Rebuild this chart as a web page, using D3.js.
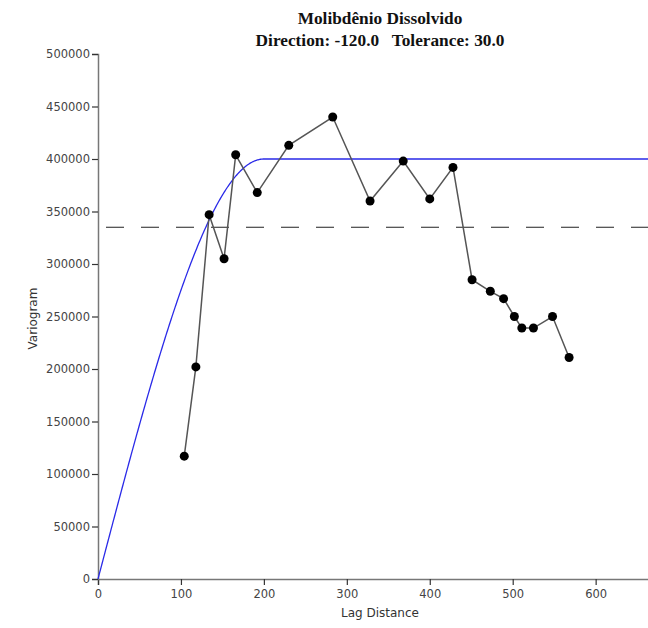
<!DOCTYPE html>
<html>
<head>
<meta charset="utf-8">
<script src="https://cdn.jsdelivr.net/npm/d3@7"></script>
<style>
  html, body { margin: 0; padding: 0; background: #fff; overflow: hidden; }
  svg { display: block; }
</style>
</head>
<body>
<svg id="chart" width="648" height="628"></svg>
<script>
// Experimental variogram: lag distance and semivariance
const lagDistance = [104, 118, 134, 152, 166, 192, 230, 283, 328, 368, 400, 428, 451, 473, 489, 502, 511, 525, 548, 568];
const semivariance = [117000, 202000, 347000, 305000, 404000, 368000, 413000, 440000, 360000, 398000, 362000, 392000, 285000, 274000, 267000, 250000, 239000, 239000, 250000, 211000];

// Fitted spherical model and sample variance
const modelNugget = 0;
const modelSill = 400000;
const modelRange = 200;
const sampleVariance = 335000;

const xTicks = [0, 100, 200, 300, 400, 500, 600];
const yTicks = [0, 50000, 100000, 150000, 200000, 250000, 300000, 350000, 400000, 450000, 500000];

const titleLines = ["Molibdênio Dissolvido", "Direction: -120.0   Tolerance: 30.0"];

const margin = { left: 98, top: 54, bottom: 49 };
const plotRight = 662;
const svg = d3.select("#chart");
const H = 628;

const x = d3.scaleLinear().domain([0, 680]).range([margin.left, plotRight]);
const y = d3.scaleLinear().domain([0, 500000]).range([H - margin.bottom, margin.top]);

// Title
svg.append("g").selectAll("text").data(titleLines).join("text")
  .attr("x", 380)
  .attr("y", (d, i) => 24 + i * 22)
  .attr("text-anchor", "middle")
  .attr("font-family", "'Liberation Serif', 'DejaVu Serif', serif")
  .attr("font-weight", "bold")
  .attr("font-size", 17.3)
  .attr("fill", "#111")
  .attr("xml:space", "preserve")
  .style("white-space", "pre")
  .text(d => d);

// Axes
const xAxis = svg.append("g")
  .attr("transform", `translate(0,${y(0)})`)
  .call(d3.axisBottom(x).tickValues(xTicks).tickSize(6).tickPadding(5).tickFormat(d3.format("d")));
const yAxis = svg.append("g")
  .attr("transform", `translate(${x(0)},0)`)
  .call(d3.axisLeft(y).tickValues(yTicks).tickSize(6).tickPadding(2).tickFormat(d3.format("d")));

[xAxis, yAxis].forEach(g => {
  g.select(".domain").attr("stroke", "#777").attr("stroke-width", 1.5);
  g.selectAll(".tick line").attr("stroke", "#333").attr("stroke-width", 1.2);
  g.selectAll(".tick text")
    .attr("font-family", "'DejaVu Sans', Verdana, sans-serif")
    .attr("font-size", 11.5)
    .attr("fill", "#444");
});

// Axis labels
svg.append("text")
  .attr("x", 380).attr("y", 617)
  .attr("text-anchor", "middle")
  .attr("font-family", "'DejaVu Sans', Verdana, sans-serif")
  .attr("font-size", 12)
  .attr("fill", "#333")
  .text("Lag Distance");
svg.append("text")
  .attr("transform", `translate(37,${(y(0) + y(500000)) / 2 + 2}) rotate(-90)`)
  .attr("text-anchor", "middle")
  .attr("font-family", "'DejaVu Sans', Verdana, sans-serif")
  .attr("font-size", 12)
  .attr("fill", "#333")
  .text("Variogram");

// Sample variance (dashed)
svg.append("line")
  .attr("x1", x(0)).attr("x2", plotRight)
  .attr("y1", y(sampleVariance)).attr("y2", y(sampleVariance))
  .attr("stroke", "#222").attr("stroke-width", 1.2)
  .attr("stroke-dasharray", "18,17")
  .attr("stroke-dashoffset", -8);

// Spherical model curve
function spherical(h) {
  if (h >= modelRange) return modelNugget + (modelSill - modelNugget);
  const r = h / modelRange;
  return modelNugget + (modelSill - modelNugget) * (1.5 * r - 0.5 * r * r * r);
}
const modelH = d3.range(0, 681, 1);
svg.append("path")
  .datum(modelH)
  .attr("fill", "none")
  .attr("stroke", "#2a2ae8")
  .attr("stroke-width", 1.3)
  .attr("d", d3.line().x(h => x(h)).y(h => y(spherical(h))));

// Experimental points and connecting line
const pts = lagDistance.map((d, i) => ({ h: d, v: semivariance[i] }));
svg.append("path")
  .datum(pts)
  .attr("fill", "none")
  .attr("stroke", "#555")
  .attr("stroke-width", 1.5)
  .attr("d", d3.line().x(d => x(d.h)).y(d => y(d.v)));
svg.append("g").selectAll("circle").data(pts).join("circle")
  .attr("cx", d => x(d.h))
  .attr("cy", d => y(d.v))
  .attr("r", 4.5)
  .attr("fill", "#000");
</script>
</body>
</html>
